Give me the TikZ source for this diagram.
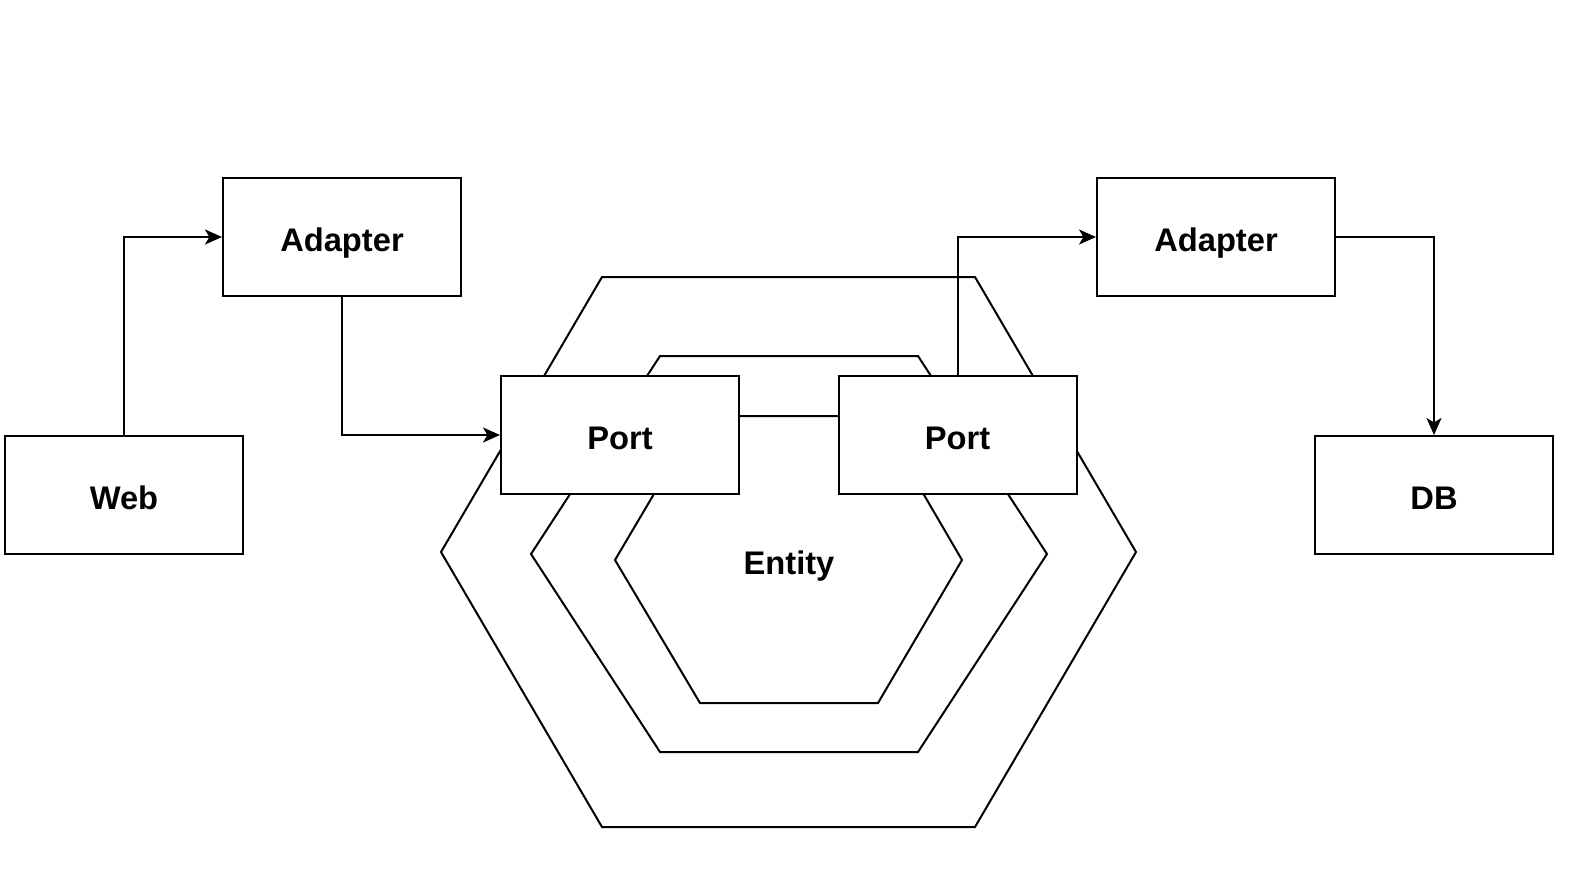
\documentclass[tikz,border=0pt]{standalone}
\usepackage{fontspec}
\setmainfont{Liberation Sans}
\usetikzlibrary{arrows.meta}
\begin{document}
\begin{tikzpicture}[x=0.5bp,y=-0.5bp, line width=1bp,
  txt/.style={font=\fontsize{16.4}{19}\selectfont\bfseries, text height=11.7pt+2.5bp, text depth=0pt},
  box/.style={draw, fill=white, minimum width=119bp, minimum height=59bp, inner sep=0pt, txt},
  lbl/.style={inner sep=0pt, txt},
  arr/.style={-{Stealth[length=8.5bp,width=7.5bp,inset=2.2bp]}},
  hex/.style={draw, line join=miter}]
\useasboundingbox (0,0) rectangle (1580,880);
% hexagons
\path[hex] (602,277) -- (975,277) -- (1136,552) -- (975,827) -- (602,827) -- (441,552) -- cycle;
\path[hex] (660,356) -- (918,356) -- (1047,554) -- (918,752) -- (660,752) -- (531,554) -- cycle;
\path[hex] (700,416) -- (878,416) -- (962,560) -- (878,703) -- (700,703) -- (615,560) -- cycle;
\node[lbl] (entity) at (789,560) {Entity};
% boxes
\node[box] (adl) at (342,237) {Adapter};
\node[box] (adr) at (1216,237) {Adapter};
\node[box] (web) at (124,495) {Web};
\node[box] (db) at (1434,495) {DB};
\node[box] (pl) at (620,435) {Port};
\node[box] (pr) at (957.5,435) {Port};
% connectors
\draw[arr] (web.north) |- (adl.west);
\draw[arr] (adl.south) |- (pl.west);
\draw[arr] (pr.north) |- (adr.west);
\draw[arr] (adr.east) -| (db.north);
\end{tikzpicture}
\end{document}
